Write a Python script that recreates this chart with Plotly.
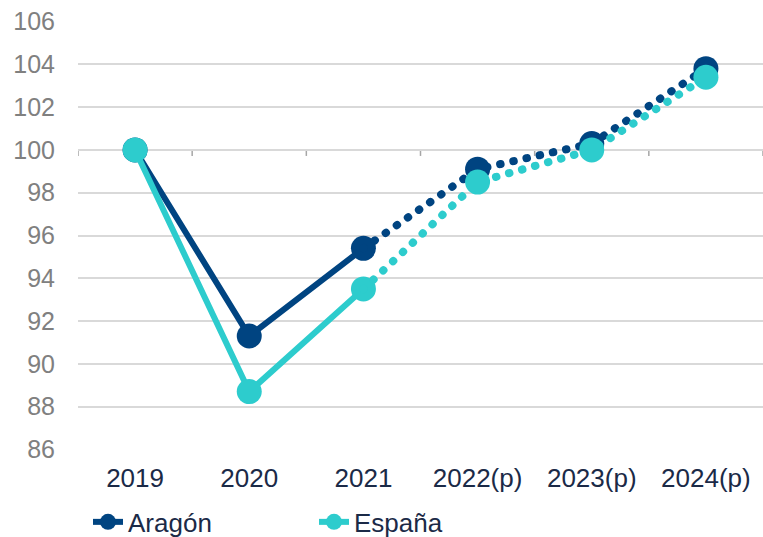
import plotly.graph_objects as go

categories = ["2019", "2020", "2021", "2022(p)", "2023(p)", "2024(p)"]
aragon = [100.0, 91.3, 95.4, 99.1, 100.3, 103.8]
espana = [100.0, 88.7, 93.5, 98.5, 100.0, 103.4]
y_ticks = [86, 88, 90, 92, 94, 96, 98, 100, 102, 104, 106]

NAVY = "#004481"
TURQ = "#2DCCCD"
FONT = "Liberation Sans, Arial, sans-serif"

x_idx = list(range(len(categories)))
n_obs = 3  # 2019-2021 observed, rest projected

fig = go.Figure()

for name, vals, col in [("Aragón", aragon, NAVY), ("España", espana, TURQ)]:
    # observed: solid line + markers
    fig.add_trace(go.Scatter(
        x=x_idx[:n_obs], y=vals[:n_obs], name=name, mode="lines+markers",
        line=dict(color=col, width=6), marker=dict(color=col, size=25, opacity=1),
        legendgroup=name, showlegend=True))
    # projected: dotted line
    fig.add_trace(go.Scatter(
        x=x_idx[n_obs - 1:], y=vals[n_obs - 1:], name=name, mode="lines",
        line=dict(color=col, width=8, dash="0.5px,13px"),
        legendgroup=name, showlegend=False))
    # projected markers
    fig.add_trace(go.Scatter(
        x=x_idx[n_obs:], y=vals[n_obs:], name=name, mode="markers",
        marker=dict(color=col, size=25, opacity=1),
        legendgroup=name, showlegend=False))

# horizontal axis line at 100 with boundary ticks
fig.add_shape(type="line", xref="paper", yref="y", x0=0, x1=1, y0=100, y1=100,
              line=dict(color="#A6A6A6", width=1.5), layer="below")
for i in range(len(categories) + 1):
    fig.add_shape(type="line", xref="x", yref="y", x0=i - 0.5, x1=i - 0.5,
                  y0=100, y1=99.72, line=dict(color="#A6A6A6", width=1.5), layer="below")

fig.update_layout(
    width=763, height=537,
    margin=dict(l=78, r=0, t=21, b=87, autoexpand=False),
    paper_bgcolor="white", plot_bgcolor="white",
    font=dict(family=FONT, size=25, color="#1B2A47"),
    xaxis=dict(range=[-0.5, 5.5], tickmode="array", tickvals=x_idx, ticktext=categories,
               showgrid=False, zeroline=False, showline=False, ticks="",
               ticklabelstandoff=10,
               tickfont=dict(size=26, color="#1B2A47")),
    yaxis=dict(range=[85.97, 106.03], tickmode="array", tickvals=y_ticks,
               showgrid=True, gridcolor="#D9D9D9", gridwidth=1.5, zeroline=False,
               showline=False, ticks="", ticklabelstandoff=22,
               tickfont=dict(size=25, color="#808080")),
    legend=dict(orientation="h", x=0.0146, xanchor="left",
                yref="container", y=0.028, yanchor="middle",
                entrywidth=181, entrywidthmode="pixels",
                font=dict(size=26, color="#1B2A47"), bgcolor="rgba(0,0,0,0)"),
    showlegend=True,
)

post = (
    "document.body.style.margin='0';"
    "var st=document.createElement('style');"
    "st.textContent='path.js-line[style*=\"dasharray\"]{stroke-linecap:round !important;}';"
    "document.head.appendChild(st);"
)

fig.write_html("out.html", post_script=post, config={"displayModeBar": False})
